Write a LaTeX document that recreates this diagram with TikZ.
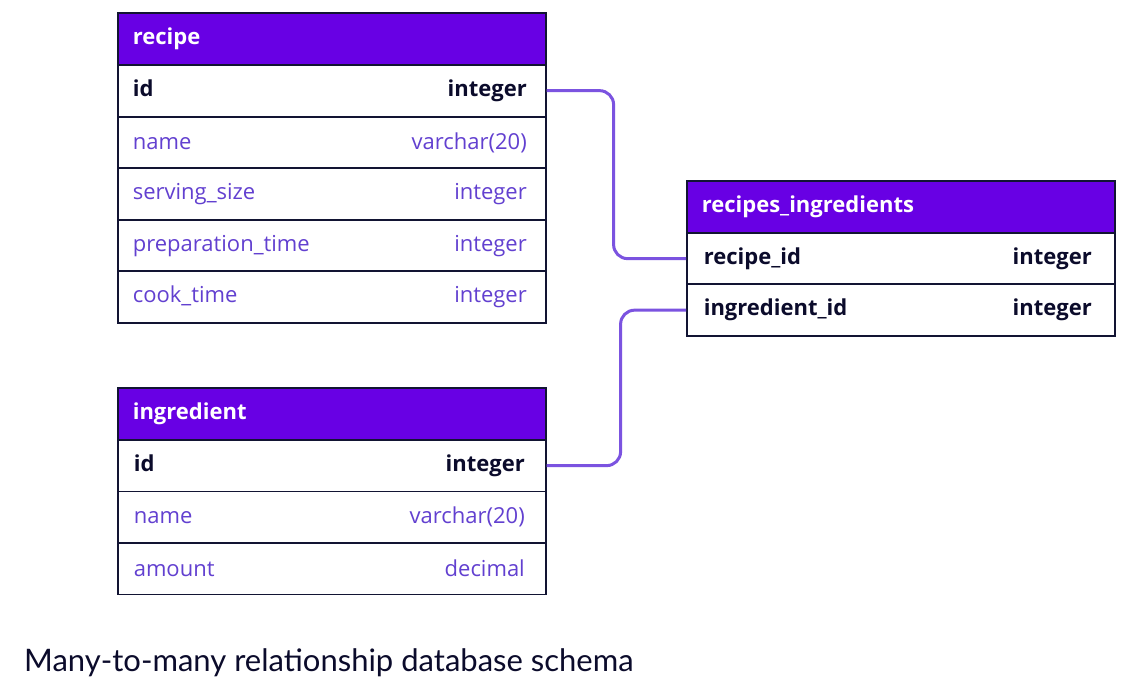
\documentclass[tikz,border=0pt]{standalone}
\usepackage{fontspec}
\setmainfont{Open Sans}
\newfontfamily\capfont{Lato}
\definecolor{hdrpurple}{RGB}{104,0,228}
\definecolor{border}{RGB}{18,20,51}
\definecolor{keytxt}{RGB}{11,11,43}
\definecolor{fldtxt}{RGB}{98,64,208}
\definecolor{connc}{RGB}{123,83,224}
\tikzset{
  tbl/.style={draw=border, line width=1.6pt, minimum width=428pt, minimum height=51.7pt,
    anchor=north west, inner xsep=15pt, text width=398pt, align=left,
    font=\fontsize{22}{26}\selectfont},
  hdr/.style={tbl, fill=hdrpurple, text=white, font=\fontsize{22}{26}\selectfont\bfseries},
  keyrow/.style={tbl, fill=white, text=keytxt, font=\fontsize{22}{26}\selectfont\bfseries},
  fldrow/.style={tbl, fill=white, text=fldtxt},
  conn/.style={draw=connc, line width=3pt, rounded corners=14pt},
}
\begin{document}
\begin{tikzpicture}[x=1pt,y=-1pt]
\useasboundingbox (0,0) rectangle (1131,692);
% recipe table
\node[hdr] (rh) at (117,12) {recipe};
\node[keyrow] (rid) at (117,64) {id\hfill integer\hspace*{4pt}};
\node[fldrow] (rname) at (117,116) {name\hfill varchar(20)\hspace*{4pt}};
\node[fldrow] (rss) at (117,167.5) {serving\_size\hfill integer\hspace*{4pt}};
\node[fldrow] (rpt) at (117,219) {preparation\_time\hfill integer\hspace*{4pt}};
\node[fldrow] (rct) at (117,270.5) {cook\_time\hfill integer\hspace*{4pt}};
% ingredient table
\node[hdr] (ih) at (117,387) {ingredient};
\node[keyrow] (iid) at (117,439) {\hspace*{1pt}id\hfill integer\hspace*{6pt}};
\node[fldrow] (iname) at (117,490.5) {\hspace*{1pt}name\hfill varchar(20)\hspace*{6pt}};
\node[fldrow] (iam) at (117,542) {\hspace*{1pt}amount\hfill decimal\hspace*{6pt}};
% recipes_ingredients table
\node[hdr] (rih) at (686,180) {recipes\_ingredients};
\node[keyrow] (ri1) at (686,232) {\hspace*{2pt}recipe\_id\hfill integer\hspace*{8pt}};
\node[keyrow] (ri2) at (686,283.5) {\hspace*{2pt}ingredient\_id\hfill integer\hspace*{8pt}};
% connectors
\draw[conn] (rid.east) -- ++(67,0) |- (ri1.west);
\draw[conn] (iid.east) -- ++(74,0) |- (ri2.west);
% caption
\node[anchor=west, text=keytxt, font=\capfont\fontsize{31}{36}\selectfont, inner sep=0] (cap) at (24,663) {Many-to-many relationship database schema};
\end{tikzpicture}
\end{document}
